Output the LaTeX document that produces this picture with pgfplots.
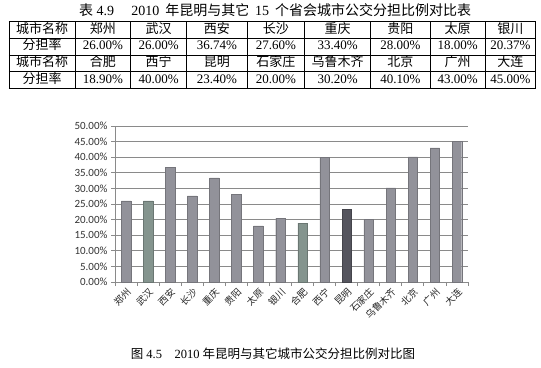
\documentclass[border=0pt]{standalone}
\usepackage{fontspec}
\usepackage{array}
\usepackage{pgfplots}
\pgfplotsset{compat=1.18}
\setmainfont{Liberation Serif}
\newfontfamily\cjk{Noto Sans CJK SC}
\newfontfamily\calib{Carlito}
\newcolumntype{C}[1]{>{\centering\arraybackslash}p{#1}}
\definecolor{barg}{HTML}{92929A}
\definecolor{bargreen}{HTML}{84948E}
\definecolor{bardark}{HTML}{55555E}
\definecolor{gridc}{HTML}{8A8A8A}
\begin{document}
\begin{tikzpicture}
\path[use as bounding box] (0,0) rectangle (541pt,-367pt);
% title
\node[anchor=center,font=\fontsize{14}{16}\selectfont] at (275pt,-10pt)
 {{\cjk 表} 4.9\quad\ 2010\, {\cjk 年昆明与其它}\, 15\, {\cjk 个省会城市公交分担比例对比表}};
% table
\node[anchor=north,inner sep=0pt,font=\fontsize{13}{16}\selectfont] at (272.5pt,-21pt) {%
\setlength{\tabcolsep}{0pt}\setlength{\arrayrulewidth}{0.7pt}%
\begin{tabular}{|C{65pt}|C{55pt}|C{55pt}|C{60pt}|C{57pt}|C{65pt}|C{59pt}|C{54pt}|C{50pt}|}
\hline
{\cjk 城市名称} & {\cjk 郑州} & {\cjk 武汉} & {\cjk 西安} & {\cjk 长沙} & {\cjk 重庆} & {\cjk 贵阳} & {\cjk 太原} & {\cjk 银川}\\
\hline
{\cjk 分担率} & 26.00\% & 26.00\% & 36.74\% & 27.60\% & 33.40\% & 28.00\% & 18.00\% & 20.37\%\\
\hline
{\cjk 城市名称} & {\cjk 合肥} & {\cjk 西宁} & {\cjk 昆明} & {\cjk 石家庄} & {\cjk 乌鲁木齐} & {\cjk 北京} & {\cjk 广州} & {\cjk 大连}\\
\hline
{\cjk 分担率} & 18.90\% & 40.00\% & 23.40\% & 20.00\% & 30.20\% & 40.10\% & 43.00\% & 45.00\%\\
\hline
\end{tabular}};
% chart
\begin{axis}[
  at={(115pt,-282pt)}, anchor=south west,
  scale only axis, width=353pt, height=156pt,
  xmin=-0.5, xmax=15.5, ymin=0, ymax=50,
  axis lines*=left,
  axis line style={gridc, line width=0.8pt},
  ytick={0,5,...,50},
  yticklabel={\pgfmathprintnumber[fixed,fixed zerofill,precision=2,assume math mode=true]{\tick}\%},
  yticklabel style={font=\calib\fontsize{11}{12}\selectfont, text=black!80},
  ymajorgrids, grid style={gridc, line width=0.9pt},
  xtick={0,...,15},
  xticklabels={郑州,武汉,西安,长沙,重庆,贵阳,太原,银川,合肥,西宁,昆明,石家庄,乌鲁木齐,北京,广州,大连},
  xticklabel style={font=\cjk\fontsize{9.5}{11}\selectfont, rotate=45, anchor=north east, inner sep=0.5pt, text=black!85},
  minor xtick={-0.5,0.5,...,15.5},
  major x tick style={draw=none},
  minor x tick style={gridc, line width=0.8pt},
  y tick style={gridc, line width=0.8pt},
  tick align=outside, major tick length=4pt, minor tick length=4pt,
  ybar, bar width=9.5pt, bar shift=0pt,
]
\addplot[fill=barg, draw=barg!80!black, line width=0.4pt] coordinates {
 (0,26.00) (2,36.74) (3,27.60) (4,33.40) (5,28.00) (6,18.00) (7,20.37)
 (9,40.00) (11,20.00) (12,30.20) (13,40.10) (14,43.00) (15,45.00)};
\addplot[fill=bargreen, draw=bargreen!80!black, line width=0.4pt] coordinates {
 (1,26.00) (8,18.90)};
\addplot[fill=bardark, draw=bardark!80!black, line width=0.4pt] coordinates {
 (10,23.40)};
\end{axis}
% caption
\node[anchor=center,font=\fontsize{12.5}{15}\selectfont] at (273pt,-354pt)
 {{\cjk 图} 4.5\quad 2010 {\cjk 年昆明与其它城市公交分担比例对比图}};
\end{tikzpicture}
\end{document}
